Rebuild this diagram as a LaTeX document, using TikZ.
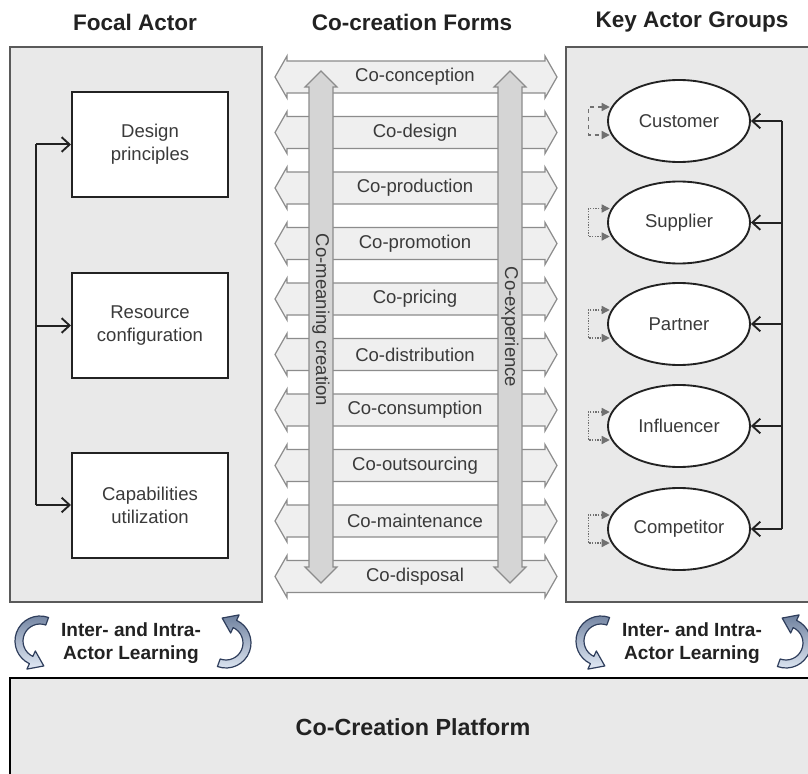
\documentclass[tikz,border=0pt]{standalone}
\usepackage{fontspec}
\setmainfont{Liberation Sans}
\usetikzlibrary{arrows.meta,shapes.geometric,calc}
\definecolor{panelfill}{HTML}{E9E9E9}
\definecolor{panelline}{HTML}{5A5A5A}
\definecolor{bandfill}{HTML}{EFEFEF}
\definecolor{bandline}{HTML}{8C8C8C}
\definecolor{vfill}{HTML}{D5D5D5}
\definecolor{txt}{HTML}{3A3A3A}
\definecolor{dark}{HTML}{222222}
\definecolor{loopc}{HTML}{707070}
\definecolor{ribdark}{HTML}{6F819F}
\definecolor{riblight}{HTML}{E2EAF5}
\definecolor{ribline}{HTML}{2F3E5C}
\tikzset{
  panelst/.style={draw=panelline, line width=1.6pt, fill=panelfill},
  titlest/.style={font=\fontsize{16.9}{19}\selectfont\bfseries, text=dark},
  labst/.style={font=\fontsize{13.9}{17.25}\selectfont, text=txt, inner sep=0pt},
  boxst/.style={draw=dark, line width=1.5pt, fill=white, minimum width=117pt, minimum height=78.75pt, inner sep=0pt, align=center, font=\fontsize{13.9}{17.25}\selectfont, text=txt},
  ellst/.style={ellipse, draw=dark, line width=1.4pt, fill=white, minimum width=106.5pt, minimum height=61.5pt, inner sep=0pt, font=\fontsize{13.9}{17.25}\selectfont, text=txt},
  bandst/.style={draw=bandline, line width=0.9pt, fill=bandfill},
  vst/.style={draw=bandline, line width=0.9pt, fill=vfill},
  conn/.style={draw=dark, line width=1.5pt},
  arr/.style={conn, -{Straight Barb[length=6pt,width=11pt,line width=1.4pt]}},
  loopd/.style={draw=loopc, line width=1pt, {Triangle[length=6pt,width=6pt]}-{Triangle[length=6pt,width=6pt]}},
  learnst/.style={font=\fontsize{14.3}{17.25}\selectfont\bfseries, text=dark, align=center},
  platst/.style={draw=black, line width=2.2pt, fill=panelfill},
  learnarrow/.pic={
    \shade[top color=ribdark, bottom color=riblight, draw=ribline, line width=0.9pt, line join=round]
      (8.55,-23.49) arc[start angle=-70, end angle=-245, radius=25]
      -- (-13.10,28.10) -- (3.81,24.95) -- (-4.65,9.97) -- (-7.18,15.41)
      arc[start angle=-245, end angle=-70, radius=17] -- cycle;
  }
}
\begin{document}
\begin{tikzpicture}[x=0.75pt,y=-0.75pt]
\clip (0,0) rectangle (808,774);
\fill[white] (0,0) rectangle (808,774);

% titles
\node[titlest] (tfocal) at (135,22) {Focal Actor};
\node[titlest] (tforms) at (412,22) {Co-creation Forms};
\node[titlest] (tkey) at (692,22) {Key Actor Groups};

% panels
\draw[panelst] (10,47) rectangle (262,602);
\draw[panelst] (566,47) rectangle (840,602);

% focal actor boxes
\node[boxst] (design) at (150,144.5) {Design\\principles};
\node[boxst] (resource) at (150,325.5) {Resource\\configuration};
\node[boxst] (capab) at (150,505) {Capabilities\\utilization};
\coordinate (busL) at (36,0);
\draw[conn] (busL |- design.west) -- (busL |- capab.west);
\draw[arr] (busL |- design.west) -- (design.west);
\draw[arr] (busL |- resource.west) -- (resource.west);
\draw[arr] (busL |- capab.west) -- (capab.west);

% co-creation forms bands
\foreach \lab [count=\i from 0] in {Co-conception,Co-design,Co-production,Co-promotion,Co-pricing,Co-distribution,Co-consumption,Co-outsourcing,Co-maintenance,Co-disposal}{
  \pgfmathsetmacro\c{77+55.5*\i}
  \draw[bandst] (275,\c) -- (287,\c-21) -- (287,\c-16) -- (545,\c-16) -- (545,\c-21) -- (557,\c)
     -- (545,\c+21) -- (545,\c+16) -- (287,\c+16) -- (287,\c+21) -- cycle;
  \node[labst] (band\i) at (415,\c) {\lab};
}

% vertical double arrows
\draw[vst] (321,71) -- (337,87) -- (333,87) -- (333,567) -- (337,567) -- (321,583)
   -- (305,567) -- (309,567) -- (309,87) -- (305,87) -- cycle;
\draw[vst] (510,71) -- (526,87) -- (522,87) -- (522,567) -- (526,567) -- (510,583)
   -- (494,567) -- (498,567) -- (498,87) -- (494,87) -- cycle;
\node[labst, rotate=-90] (meaning) at (321,320) {Co-meaning creation};
\node[labst, rotate=-90] (exper) at (510,327) {Co-experience};

% key actor groups
\node[ellst] (cust) at (679,121) {Customer};
\node[ellst] (supp) at (679,222.5) {Supplier};
\node[ellst] (part) at (679,324) {Partner};
\node[ellst] (infl) at (679,426) {Influencer};
\node[ellst] (comp) at (679,529) {Competitor};
\coordinate (busR) at (782,0);
\draw[conn] (busR |- cust.east) -- (busR |- comp.east);
\foreach \e in {cust,supp,part,infl,comp}{
  \draw[arr] (busR |- \e.east) -- (\e.east);
}
\draw[loopd, dashed] ([xshift=2pt,yshift=10.5pt]cust.west) -- ++(-16pt,0) -- ++(0,-21pt) -- ++(16pt,0);
\foreach \e in {supp,part,infl,comp}{
  \draw[loopd, densely dotted] ([xshift=2pt,yshift=10.5pt]\e.west) -- ++(-16pt,0) -- ++(0,-21pt) -- ++(16pt,0);
}

% learning
\pic at (40,641) {learnarrow};
\pic[rotate=180] at (226,643) {learnarrow};
\node[learnst] (learnL) at (131,643) {Inter- and Intra-\\Actor Learning};
\pic at (601,641) {learnarrow};
\pic[rotate=180] at (786,643) {learnarrow};
\node[learnst] (learnR) at (692,643) {Inter- and Intra-\\Actor Learning};

% platform
\draw[platst] (10,678) rectangle (840,800);
\node[font=\fontsize{17.5}{20}\selectfont\bfseries, text=dark] (plat) at (413,727) {Co-Creation Platform};
\end{tikzpicture}
\end{document}
